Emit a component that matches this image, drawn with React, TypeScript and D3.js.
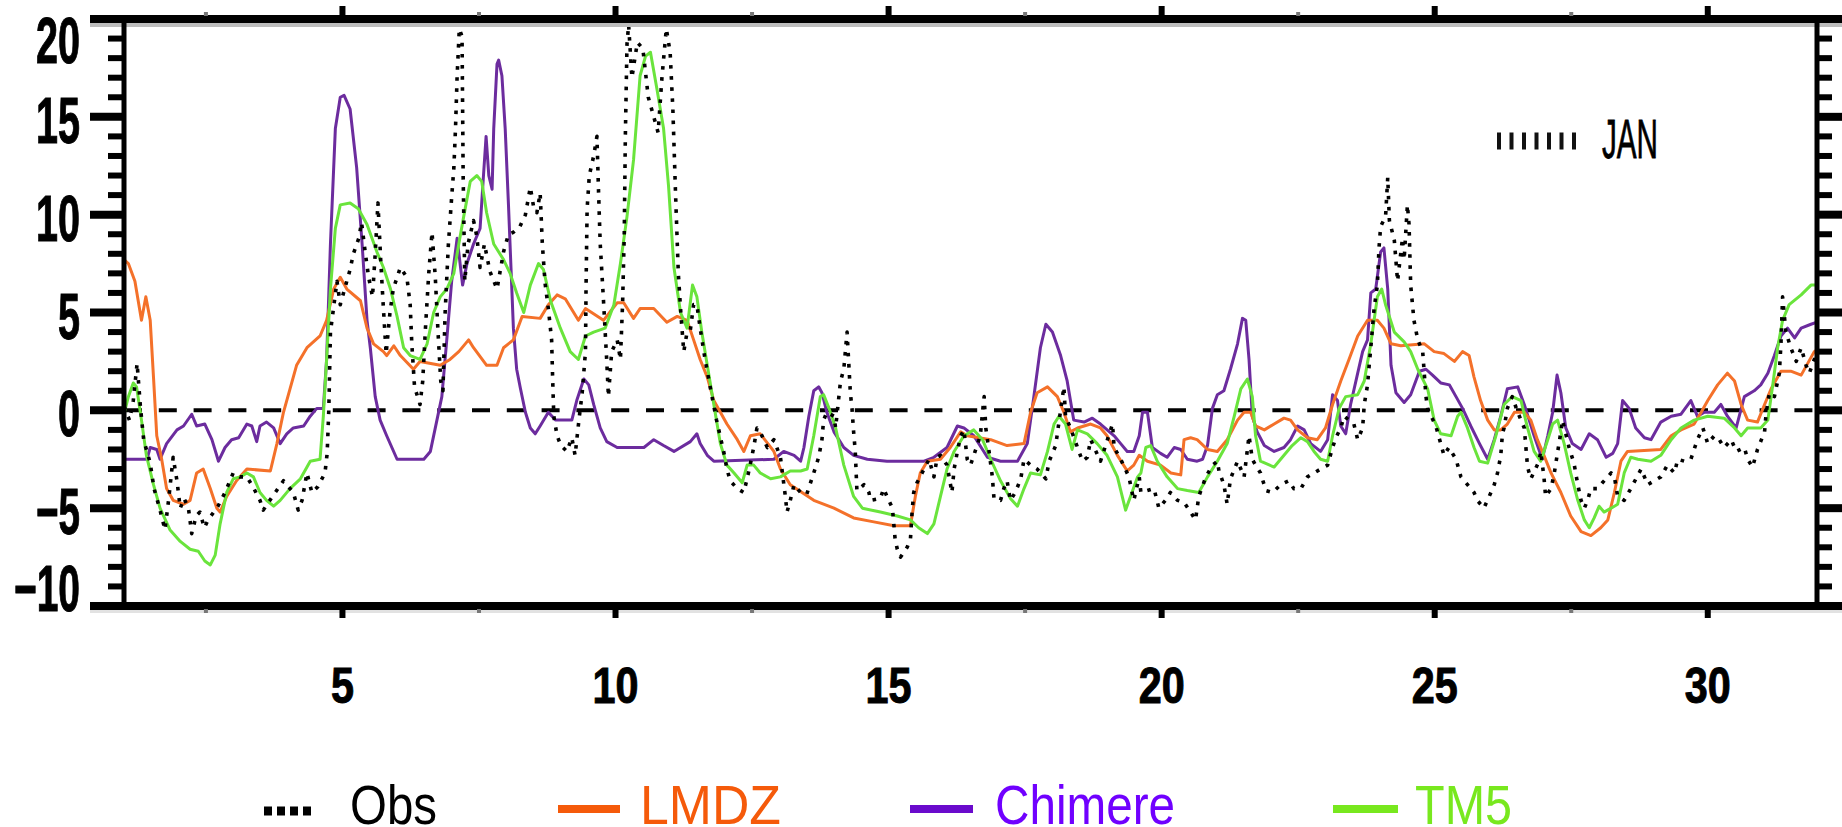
import React from 'react';
import * as d3 from 'd3';

type Pt = [number, number];

// tick values and legend texts
const xTicks = [5, 10, 15, 20, 25, 30];
const yTicks = [-10, -5, 0, 5, 10, 15, 20];
const seriesNames = ['Obs', 'LMDZ', 'Chimere', 'TM5'];
const monthLabel = 'JAN';

// [day of month, value]
const obs: Pt[] = [
	[1.0, 0.2], [1.1, -0.5], [1.17, 0.5], [1.24, 2.4], [1.3, 0.2], [1.36, -1.5], [1.48, -2.7], [1.55, -4.0],
	[1.66, -5.1], [1.75, -6.1], [1.82, -4.5], [1.9, -2.4], [1.97, -3.6], [2.03, -5.0], [2.1, -4.5], [2.18, -5.0],
	[2.24, -6.3], [2.32, -5.4], [2.39, -5.2], [2.47, -6.0], [2.54, -5.6], [2.72, -4.9], [2.85, -4.2], [3.0, -3.2],
	[3.12, -3.4], [3.25, -3.4], [3.36, -3.9], [3.49, -4.6], [3.55, -5.1], [3.62, -4.8], [3.77, -4.2], [3.92, -3.6],
	[4.1, -4.2], [4.19, -5.1], [4.26, -4.6], [4.35, -3.2], [4.44, -4.2], [4.55, -3.9], [4.68, -3.2], [4.72, -2.2],
	[4.75, 0.0], [4.78, 4.0], [4.84, 5.3], [4.9, 6.6], [4.96, 5.4], [5.05, 6.3], [5.14, 7.2], [5.2, 8.0],
	[5.3, 8.8], [5.35, 9.6], [5.42, 8.0], [5.48, 6.8], [5.55, 5.8], [5.6, 8.0], [5.65, 10.6], [5.7, 7.7],
	[5.75, 5.2], [5.8, 2.9], [5.87, 5.0], [5.93, 6.2], [6.06, 7.3], [6.18, 6.8], [6.24, 5.4], [6.27, 3.4],
	[6.32, 1.2], [6.42, 0.3], [6.47, 1.5], [6.52, 4.2], [6.58, 7.0], [6.64, 9.1], [6.7, 6.8], [6.75, 4.0],
	[6.8, 1.5], [6.84, 1.0], [6.88, 5.0], [6.94, 8.5], [7.0, 10.9], [7.04, 12.4], [7.07, 14.4], [7.1, 17.1],
	[7.14, 19.5], [7.19, 19.1], [7.21, 12.0], [7.24, 6.6], [7.3, 8.5], [7.4, 9.7], [7.46, 8.9], [7.52, 7.3],
	[7.6, 8.5], [7.7, 7.1], [7.83, 6.2], [7.95, 8.1], [8.04, 9.0], [8.13, 9.1], [8.25, 9.4], [8.35, 10.0],
	[8.44, 11.4], [8.5, 10.4], [8.56, 10.1], [8.62, 11.1], [8.66, 8.5], [8.71, 6.5], [8.77, 5.2], [8.83, 3.6],
	[8.85, 1.5], [8.87, -0.3], [8.93, -1.3], [9.0, -1.8], [9.11, -2.1], [9.2, -1.4], [9.26, -2.3], [9.33, -0.5],
	[9.39, 0.9], [9.45, 3.0], [9.46, 6.2], [9.48, 10.3], [9.52, 12.0], [9.6, 13.0], [9.66, 14.0], [9.69, 11.1],
	[9.72, 8.5], [9.78, 5.6], [9.84, 2.5], [9.87, 0.7], [9.93, 3.0], [10.03, 3.6], [10.09, 2.6], [10.13, 5.5],
	[10.16, 9.0], [10.18, 14.0], [10.21, 18.7], [10.24, 19.7], [10.3, 17.0], [10.4, 18.8], [10.5, 18.5], [10.6, 16.0],
	[10.7, 15.0], [10.78, 14.2], [10.85, 17.0], [10.93, 19.5], [11.0, 18.3], [11.05, 15.4], [11.1, 11.0], [11.15, 7.0],
	[11.2, 4.8], [11.25, 3.0], [11.31, 4.0], [11.37, 4.1], [11.43, 5.4], [11.49, 5.4], [11.55, 4.2], [11.64, 2.6],
	[11.74, 1.1], [11.85, -0.5], [11.98, -2.1], [12.04, -3.0], [12.1, -3.6], [12.23, -4.0], [12.35, -4.2], [12.45, -3.0],
	[12.53, -1.9], [12.59, -0.9], [12.65, -1.1], [12.78, -1.9], [12.9, -1.5], [13.02, -2.4], [13.11, -4.4], [13.14, -5.2],
	[13.2, -4.6], [13.27, -3.8], [13.39, -4.2], [13.5, -4.3], [13.63, -3.2], [13.72, -2.4], [13.78, -1.5], [13.81, -0.5],
	[13.87, -0.1], [14.0, -0.3], [14.03, -0.9], [14.09, 0.7], [14.12, 1.5], [14.18, 2.1], [14.24, 4.0], [14.3, 0.9],
	[14.33, 0.1], [14.36, -1.1], [14.39, -2.1], [14.42, -4.1], [14.55, -3.8], [14.64, -4.2], [14.67, -4.6], [14.85, -4.5],
	[14.91, -4.0], [14.97, -4.4], [15.07, -5.0], [15.12, -6.6], [15.16, -7.1], [15.22, -7.5], [15.34, -7.0], [15.4, -6.6],
	[15.43, -5.2], [15.46, -4.2], [15.52, -3.7], [15.65, -3.0], [15.74, -2.5], [15.83, -3.4], [15.89, -2.4], [15.95, -2.3],
	[16.07, -2.8], [16.16, -4.2], [16.2, -3.0], [16.26, -2.1], [16.32, -1.3], [16.38, -1.0], [16.44, -2.5], [16.5, -2.8],
	[16.56, -2.3], [16.68, -1.3], [16.72, -0.1], [16.75, 0.7], [16.78, -0.9], [16.84, -2.1], [16.9, -3.4], [16.93, -4.5],
	[17.05, -4.6], [17.11, -4.0], [17.17, -3.6], [17.23, -4.6], [17.32, -4.2], [17.42, -3.5], [17.48, -2.5], [17.6, -2.8],
	[17.72, -3.0], [17.88, -3.5], [17.94, -2.6], [18.06, -1.8], [18.21, 1.2], [18.24, -0.3], [18.33, -0.9], [18.46, -1.9],
	[18.55, -2.6], [18.64, -2.4], [18.7, -1.5], [18.88, -2.6], [19.1, -0.7], [19.13, -1.9], [19.25, -2.5], [19.4, -3.4],
	[19.49, -4.6], [19.59, -3.4], [19.62, -4.2], [19.86, -4.0], [19.95, -5.0], [20.07, -4.6], [20.16, -4.2], [20.29, -4.6],
	[20.41, -4.7], [20.53, -5.2], [20.62, -5.6], [20.68, -4.4], [20.81, -3.4], [20.93, -2.8], [21.02, -2.6], [21.05, -3.1],
	[21.14, -3.8], [21.2, -4.8], [21.26, -3.5], [21.39, -2.6], [21.45, -3.0], [21.51, -3.4], [21.6, -1.3], [21.66, -2.5],
	[21.72, -2.8], [21.81, -3.2], [21.91, -4.1], [22.03, -4.2], [22.18, -3.8], [22.33, -3.6], [22.42, -4.0], [22.55, -4.0],
	[22.67, -3.4], [22.79, -3.2], [22.91, -3.0], [23.04, -2.8], [23.13, -1.9], [23.19, -1.4], [23.28, -0.9], [23.34, -0.3],
	[23.52, -0.7], [23.59, -1.5], [23.68, -0.9], [23.71, 0.3], [23.77, 1.3], [23.8, 2.3], [23.83, 3.2], [23.89, 5.2],
	[23.95, 6.4], [23.98, 8.3], [24.01, 9.4], [24.1, 9.9], [24.14, 11.9], [24.17, 9.7], [24.26, 8.7], [24.32, 6.6],
	[24.41, 8.8], [24.44, 7.7], [24.5, 10.5], [24.53, 9.5], [24.56, 6.4], [24.62, 4.6], [24.69, 3.6], [24.78, 3.0],
	[24.84, 0.7], [24.87, 0.1], [25.02, -0.8], [25.11, -1.7], [25.17, -2.3], [25.26, -1.9], [25.39, -2.5], [25.48, -3.4],
	[25.6, -3.8], [25.72, -4.2], [25.78, -4.6], [25.9, -5.0], [26.03, -4.2], [26.09, -3.8], [26.15, -3.2], [26.21, -2.3],
	[26.24, -1.2], [26.27, -0.9], [26.33, 0.1], [26.42, 0.7], [26.52, -0.1], [26.64, -0.9], [26.67, -1.9], [26.7, -2.9],
	[26.76, -3.5], [26.91, -2.6], [26.94, -2.1], [27.0, -3.4], [27.03, -4.4], [27.13, -4.0], [27.19, -3.2], [27.31, -1.1],
	[27.34, -0.5], [27.46, -1.9], [27.55, -2.7], [27.62, -3.8], [27.68, -4.6], [27.74, -5.0], [27.8, -4.6], [27.86, -4.0],
	[27.98, -4.0], [28.07, -3.7], [28.17, -3.4], [28.23, -3.2], [28.29, -3.4], [28.35, -4.4], [28.47, -4.6], [28.59, -4.0],
	[28.78, -3.0], [28.9, -3.8], [29.02, -3.6], [29.14, -3.4], [29.26, -2.8], [29.39, -3.2], [29.45, -2.5], [29.57, -2.6],
	[29.69, -2.5], [29.81, -1.5], [29.91, -0.9], [30.0, -1.7], [30.12, -1.3], [30.21, -1.5], [30.3, -1.9], [30.43, -1.5],
	[30.52, -2.1], [30.67, -1.9], [30.73, -2.5], [30.82, -2.9], [30.91, -2.0], [31.04, -1.1], [31.07, -0.1], [31.13, 0.9],
	[31.22, 0.7], [31.31, 1.9], [31.34, 3.4], [31.37, 5.8], [31.43, 4.0], [31.52, 3.2], [31.62, 2.5], [31.71, 3.2],
	[31.8, 2.3], [31.86, 1.9], [31.95, 2.6], [32.0, 2.4],
];

const lmdz: Pt[] = [
	[1.0, 7.7], [1.08, 7.5], [1.2, 6.6], [1.32, 4.6], [1.4, 5.8], [1.48, 4.6], [1.54, 1.7], [1.6, -1.3],
	[1.69, -2.5], [1.78, -4.0], [1.9, -4.6], [2.09, -4.8], [2.21, -4.6], [2.33, -3.2], [2.45, -3.0], [2.58, -4.0],
	[2.7, -5.0], [2.76, -5.2], [2.88, -4.4], [3.06, -3.6], [3.25, -3.0], [3.68, -3.1], [3.8, -1.7], [3.92, -0.1],
	[4.04, 1.1], [4.16, 2.3], [4.35, 3.2], [4.59, 3.8], [4.71, 4.6], [4.84, 6.2], [4.96, 6.8], [5.08, 6.2],
	[5.33, 5.6], [5.45, 4.2], [5.57, 3.4], [5.75, 3.0], [5.81, 2.8], [5.94, 3.3], [6.06, 2.8], [6.3, 2.1],
	[6.42, 2.5], [6.79, 2.3], [6.97, 2.6], [7.13, 3.0], [7.31, 3.6], [7.4, 3.2], [7.64, 2.3], [7.83, 2.3],
	[7.95, 3.2], [8.13, 3.6], [8.29, 4.8], [8.62, 4.7], [8.77, 5.4], [8.93, 5.9], [9.08, 5.7], [9.32, 4.6],
	[9.45, 5.2], [9.78, 4.6], [10.03, 5.5], [10.15, 5.5], [10.33, 4.7], [10.45, 5.2], [10.7, 5.2], [10.94, 4.5],
	[11.13, 4.8], [11.31, 4.6], [11.43, 3.6], [11.55, 2.6], [11.68, 1.7], [11.8, 0.5], [12.04, -0.7], [12.23, -1.5],
	[12.35, -2.1], [12.47, -1.3], [12.65, -1.2], [12.9, -2.1], [13.02, -3.0], [13.2, -3.8], [13.36, -4.1], [13.63, -4.6],
	[14.0, -5.0], [14.36, -5.5], [14.73, -5.7], [15.1, -5.9], [15.4, -5.9], [15.49, -4.4], [15.58, -3.2], [15.71, -2.6],
	[15.95, -2.5], [16.13, -1.9], [16.32, -1.1], [16.44, -1.3], [16.87, -1.5], [17.17, -1.8], [17.48, -1.7], [17.6, -0.1],
	[17.72, 0.9], [17.91, 1.2], [18.09, 0.7], [18.21, -0.1], [18.33, -1.1], [18.46, -0.9], [18.7, -0.7], [18.88, -0.9],
	[19.0, -1.3], [19.19, -2.3], [19.37, -3.1], [19.49, -2.8], [19.59, -2.3], [19.74, -2.6], [19.98, -2.8], [20.17, -3.2],
	[20.35, -3.3], [20.41, -1.5], [20.53, -1.4], [20.65, -1.5], [20.84, -2.0], [21.02, -2.1], [21.2, -1.5], [21.39, -0.5],
	[21.51, -0.1], [21.63, -0.1], [21.72, -0.8], [21.88, -1.0], [22.06, -0.7], [22.24, -0.4], [22.36, -0.5], [22.49, -1.0],
	[22.67, -1.4], [22.85, -1.5], [23.0, -0.9], [23.13, 0.3], [23.28, 1.5], [23.43, 2.6], [23.59, 3.8], [23.77, 4.6],
	[23.95, 4.6], [24.07, 4.2], [24.2, 3.4], [24.38, 3.3], [24.81, 3.4], [24.99, 3.0], [25.17, 2.9], [25.36, 2.5],
	[25.51, 3.0], [25.63, 2.8], [25.72, 1.7], [25.84, 0.5], [25.97, -0.5], [26.09, -1.0], [26.21, -1.0], [26.33, -0.7],
	[26.46, -0.1], [26.64, -0.1], [26.76, -0.5], [26.88, -1.5], [27.0, -2.3], [27.13, -3.2], [27.31, -4.2], [27.49, -5.4],
	[27.68, -6.2], [27.86, -6.4], [28.04, -6.0], [28.17, -5.6], [28.29, -4.2], [28.41, -2.6], [28.53, -2.1], [29.14, -2.0],
	[29.33, -1.3], [29.51, -1.0], [29.75, -0.7], [29.88, -0.1], [30.0, 0.5], [30.18, 1.3], [30.36, 1.9], [30.49, 1.5],
	[30.61, 0.3], [30.73, -0.5], [30.91, -0.6], [31.04, 0.3], [31.16, 1.1], [31.34, 2.0], [31.52, 2.0], [31.71, 1.8],
	[31.83, 2.4], [31.95, 3.0], [32.0, 3.1],
];

const chimere: Pt[] = [
	[1.0, -2.5], [1.42, -2.5], [1.48, -1.9], [1.6, -2.0], [1.66, -2.5], [1.78, -1.7], [1.97, -1.0], [2.09, -0.8],
	[2.24, -0.2], [2.33, -0.8], [2.48, -0.7], [2.61, -1.5], [2.73, -2.6], [2.85, -1.9], [2.97, -1.5], [3.1, -1.4],
	[3.25, -0.7], [3.34, -0.8], [3.43, -1.6], [3.49, -0.8], [3.61, -0.6], [3.74, -0.9], [3.86, -1.7], [3.98, -1.2],
	[4.1, -0.9], [4.29, -0.8], [4.41, -0.3], [4.53, 0.1], [4.65, 0.1], [4.71, 2.6], [4.78, 8.5], [4.87, 14.4],
	[4.96, 16.0], [5.03, 16.1], [5.14, 15.4], [5.26, 12.4], [5.36, 8.5], [5.45, 4.6], [5.51, 3.2], [5.6, 0.7],
	[5.69, -0.5], [5.81, -1.3], [6.0, -2.5], [6.49, -2.5], [6.61, -2.1], [6.73, -0.5], [6.82, 0.7], [6.91, 3.6],
	[7.0, 6.6], [7.1, 8.8], [7.2, 6.4], [7.28, 7.5], [7.4, 8.5], [7.52, 9.3], [7.58, 11.9], [7.63, 14.0],
	[7.68, 12.0], [7.74, 11.3], [7.77, 14.4], [7.83, 17.7], [7.86, 17.9], [7.92, 17.1], [7.98, 14.4], [8.04, 10.5],
	[8.13, 4.2], [8.19, 2.1], [8.26, 1.1], [8.35, -0.1], [8.44, -0.9], [8.53, -1.2], [8.62, -0.8], [8.77, -0.1],
	[8.9, -0.5], [9.2, -0.5], [9.29, 0.5], [9.42, 1.6], [9.51, 1.3], [9.6, 0.3], [9.72, -0.9], [9.84, -1.6],
	[10.03, -1.9], [10.52, -1.9], [10.7, -1.5], [10.88, -1.8], [11.07, -2.1], [11.37, -1.6], [11.49, -1.2], [11.55, -1.7],
	[11.68, -2.3], [11.8, -2.6], [12.9, -2.5], [13.08, -2.1], [13.27, -2.3], [13.39, -2.6], [13.45, -1.9], [13.54, -0.3],
	[13.63, 1.0], [13.72, 1.2], [13.78, 0.9], [13.87, -0.1], [14.0, -1.1], [14.18, -1.9], [14.36, -2.3], [14.61, -2.5],
	[14.97, -2.6], [15.65, -2.6], [15.83, -2.4], [16.07, -1.9], [16.26, -0.8], [16.38, -0.9], [16.56, -1.3], [16.81, -2.4],
	[17.05, -2.6], [17.36, -2.6], [17.54, -1.7], [17.66, 0.7], [17.78, 3.2], [17.88, 4.4], [18.0, 4.0], [18.15, 2.8],
	[18.27, 1.5], [18.39, -0.5], [18.58, -0.6], [18.73, -0.4], [18.88, -0.7], [19.13, -1.3], [19.25, -1.7], [19.37, -2.1],
	[19.49, -2.1], [19.59, -1.3], [19.65, -0.1], [19.74, -0.1], [19.83, -1.9], [19.98, -2.2], [20.1, -2.4], [20.23, -1.9],
	[20.35, -2.0], [20.47, -2.5], [20.65, -2.6], [20.75, -2.5], [20.84, -1.8], [20.93, 0.1], [21.02, 0.8], [21.14, 1.0],
	[21.26, 2.1], [21.39, 3.4], [21.48, 4.7], [21.54, 4.6], [21.6, 2.6], [21.66, -0.3], [21.75, -1.1], [21.88, -1.8],
	[22.06, -2.1], [22.24, -1.9], [22.36, -1.5], [22.49, -0.8], [22.61, -1.0], [22.73, -1.7], [22.91, -2.1], [23.04, -1.5],
	[23.13, 0.8], [23.22, 0.5], [23.28, -0.8], [23.37, -1.2], [23.46, 0.3], [23.59, 1.9], [23.68, 3.0], [23.77, 3.6],
	[23.83, 6.0], [23.92, 6.2], [24.01, 8.1], [24.07, 8.3], [24.14, 6.2], [24.2, 2.3], [24.29, 0.9], [24.44, 0.4],
	[24.56, 0.8], [24.72, 2.0], [24.84, 2.1], [24.96, 1.8], [25.11, 1.4], [25.27, 1.3], [25.39, 0.7], [25.51, 0.1],
	[25.66, -0.8], [25.82, -1.7], [25.97, -2.5], [26.09, -1.5], [26.21, -0.3], [26.33, 1.1], [26.52, 1.2], [26.64, 0.3],
	[26.82, -1.3], [26.97, -2.5], [27.07, -1.3], [27.16, -0.1], [27.24, 1.8], [27.31, 0.9], [27.4, -0.9], [27.52, -1.7],
	[27.68, -2.0], [27.83, -1.2], [27.98, -1.5], [28.14, -2.4], [28.26, -2.2], [28.35, -1.7], [28.44, 0.5], [28.56, 0.1],
	[28.68, -0.9], [28.84, -1.4], [28.96, -1.5], [29.14, -0.6], [29.33, -0.3], [29.51, -0.2], [29.69, 0.5], [29.81, -0.3],
	[29.94, -0.1], [30.12, -0.1], [30.24, 0.3], [30.36, -0.3], [30.52, -0.9], [30.67, 0.7], [30.85, 1.0], [30.97, 1.3],
	[31.1, 1.9], [31.22, 2.8], [31.34, 3.8], [31.46, 4.2], [31.59, 3.7], [31.71, 4.2], [31.89, 4.4], [32.0, 4.5],
];

const tm5: Pt[] = [
	[1.0, -0.2], [1.08, 0.7], [1.17, 1.4], [1.23, 1.2], [1.32, -0.5], [1.41, -2.3], [1.54, -3.8], [1.66, -5.0],
	[1.84, -6.1], [2.03, -6.7], [2.21, -7.1], [2.36, -7.2], [2.48, -7.7], [2.58, -7.9], [2.67, -7.4], [2.76, -5.8],
	[2.88, -4.2], [3.0, -3.5], [3.13, -3.4], [3.25, -3.2], [3.37, -3.4], [3.49, -4.2], [3.61, -4.6], [3.74, -4.9],
	[3.86, -4.6], [4.04, -4.0], [4.23, -3.5], [4.41, -2.6], [4.59, -2.5], [4.65, -0.3], [4.71, 2.6], [4.78, 6.2],
	[4.87, 9.3], [4.96, 10.5], [5.14, 10.6], [5.29, 10.3], [5.45, 9.5], [5.63, 8.1], [5.75, 7.3], [5.88, 6.2],
	[6.0, 4.8], [6.12, 3.2], [6.24, 2.8], [6.42, 2.6], [6.55, 3.4], [6.67, 5.0], [6.79, 5.8], [6.91, 6.2],
	[7.04, 7.0], [7.13, 8.5], [7.22, 9.9], [7.34, 11.7], [7.46, 12.0], [7.55, 11.7], [7.64, 10.1], [7.77, 8.5],
	[7.95, 7.7], [8.07, 7.0], [8.19, 6.0], [8.32, 5.0], [8.44, 6.4], [8.59, 7.5], [8.68, 7.2], [8.81, 5.6],
	[8.99, 4.2], [9.17, 3.0], [9.32, 2.6], [9.45, 3.8], [9.6, 4.0], [9.81, 4.2], [9.97, 5.4], [10.09, 7.5],
	[10.21, 9.9], [10.33, 12.8], [10.45, 17.1], [10.55, 18.1], [10.64, 18.3], [10.76, 16.4], [10.88, 14.4], [10.97, 11.5],
	[11.07, 7.3], [11.19, 5.0], [11.31, 4.2], [11.41, 6.4], [11.49, 5.8], [11.58, 4.0], [11.68, 2.3], [11.8, 0.3],
	[11.92, -1.7], [12.04, -2.8], [12.17, -3.2], [12.32, -3.7], [12.41, -2.8], [12.53, -2.8], [12.65, -3.2], [12.84, -3.5],
	[13.02, -3.4], [13.2, -3.1], [13.39, -3.1], [13.51, -3.0], [13.63, -1.3], [13.75, 0.7], [13.81, 0.8], [13.91, 0.1],
	[14.03, -0.9], [14.18, -2.8], [14.36, -4.4], [14.52, -5.0], [14.85, -5.2], [15.16, -5.4], [15.4, -5.6], [15.55, -6.0],
	[15.71, -6.3], [15.83, -5.8], [15.95, -4.4], [16.07, -3.0], [16.2, -2.1], [16.38, -1.3], [16.56, -1.0], [16.72, -1.5],
	[16.87, -2.5], [17.05, -3.6], [17.23, -4.5], [17.36, -4.9], [17.48, -4.0], [17.6, -3.2], [17.78, -3.3], [17.91, -2.1],
	[18.03, -0.7], [18.12, -0.3], [18.24, -0.7], [18.36, -2.0], [18.46, -1.0], [18.64, -1.2], [18.82, -1.7], [19.0, -2.3],
	[19.19, -3.4], [19.34, -5.1], [19.43, -4.4], [19.56, -3.4], [19.62, -3.2], [19.71, -1.9], [19.8, -1.8], [19.92, -2.6],
	[20.1, -3.4], [20.29, -4.0], [20.47, -4.1], [20.68, -4.2], [20.84, -3.4], [21.02, -2.6], [21.2, -1.7], [21.33, -0.3],
	[21.45, 1.1], [21.57, 1.6], [21.66, 0.7], [21.72, -1.3], [21.81, -2.6], [22.06, -2.9], [22.24, -2.3], [22.39, -1.8],
	[22.55, -1.4], [22.67, -1.6], [22.79, -2.1], [22.91, -2.5], [23.04, -2.6], [23.13, -1.3], [23.25, 0.1], [23.37, 0.7],
	[23.59, 0.8], [23.71, 1.5], [23.83, 3.4], [23.95, 5.8], [24.03, 6.2], [24.1, 5.4], [24.26, 4.0], [24.44, 3.5],
	[24.56, 3.0], [24.69, 2.1], [24.87, 1.1], [24.99, -0.5], [25.11, -1.2], [25.3, -1.3], [25.42, -0.3], [25.48, -0.1],
	[25.6, -0.9], [25.72, -1.9], [25.82, -2.6], [25.97, -2.7], [26.12, -1.3], [26.27, 0.3], [26.42, 0.7], [26.58, 0.5],
	[26.7, -0.9], [26.82, -2.1], [26.94, -2.6], [27.07, -1.5], [27.16, -0.7], [27.25, -0.5], [27.37, -1.7], [27.49, -3.2],
	[27.62, -4.6], [27.74, -5.6], [27.83, -6.0], [27.92, -5.5], [28.01, -4.9], [28.1, -5.2], [28.23, -5.0], [28.35, -4.8],
	[28.47, -3.2], [28.59, -2.4], [28.72, -2.5], [28.96, -2.6], [29.14, -2.3], [29.33, -1.5], [29.51, -0.9], [29.75, -0.5],
	[30.0, -0.3], [30.3, -0.4], [30.49, -0.9], [30.61, -1.3], [30.73, -0.9], [30.97, -0.9], [31.1, -0.5], [31.19, 1.3],
	[31.28, 3.2], [31.37, 4.6], [31.49, 5.4], [31.71, 5.9], [31.89, 6.4], [32.0, 6.4],
];

const W = 1842;
const H = 827;
const plot = { left: 124, right: 1817, top: 19, bottom: 606 };
const tickFont = 'Liberation Sans, Arial, Helvetica, sans-serif';

export default function App() {
	const x = d3.scaleLinear().domain([1, 32]).range([plot.left, plot.right]);
	const y = d3.scaleLinear().domain([-10, 20]).range([plot.bottom, plot.top]);
	const line = d3
		.line<Pt>()
		.x((d) => x(d[0]))
		.y((d) => y(d[1]));
	const fmt = d3.format('d');

	const yMinor = d3.range(-10, 21).filter((v) => v % 5 !== 0);
	const xMinor = d3.range(2.5, 32, 5);

	// bottom legend layout
	const legend = [
		{ name: seriesNames[0], color: '#000', textColor: '#000', x1: 264, x2: 312, dots: true, tx: 350, tw: 87 },
		{ name: seriesNames[1], color: '#F55A0A', textColor: '#F55A0A', x1: 558, x2: 620, dots: false, tx: 640, tw: 141 },
		{ name: seriesNames[2], color: '#6A0ACC', textColor: '#7000FF', x1: 910, x2: 973, dots: false, tx: 995, tw: 180 },
		{ name: seriesNames[3], color: '#78E81E', textColor: '#78E81E', x1: 1333, x2: 1398, dots: false, tx: 1415, tw: 97 },
	];

	return (
		<svg
			width={W}
			height={H}
			style={{ position: 'absolute', left: 0, top: 0, background: '#fff' }}
			fontFamily={tickFont}>
			<defs>
				<clipPath id='plotClip'>
					<rect x={plot.left} y={plot.top} width={plot.right - plot.left} height={plot.bottom - plot.top} />
				</clipPath>
			</defs>

			{/* zero line */}
			<line
				x1={plot.left}
				x2={plot.right}
				y1={y(0)}
				y2={y(0)}
				stroke='#000'
				strokeWidth={4}
				strokeDasharray='18 16.8'
			/>

			{/* series */}
			<g clipPath='url(#plotClip)' fill='none' strokeLinejoin='round'>
				<path d={line(chimere) || ''} stroke='#6C2C9E' strokeWidth={3} />
				<path d={line(lmdz) || ''} stroke='#F4712A' strokeWidth={3} />
				<path d={line(tm5) || ''} stroke='#6AE43C' strokeWidth={3} />
				<path d={line(obs) || ''} stroke='#000' strokeWidth={3.6} strokeDasharray='3.6 7.5' />
			</g>

			{/* frame */}
			<rect x={90} y={23} width={W - 90} height={4} fill='#bdbdbd' />
			<rect x={90} y={610} width={W - 90} height={3} fill='#e2e2e2' />
			<line x1={90} x2={W} y1={plot.top} y2={plot.top} stroke='#000' strokeWidth={8} />
			<line x1={90} x2={W} y1={plot.bottom} y2={plot.bottom} stroke='#000' strokeWidth={8} />
			<line x1={plot.left} x2={plot.left} y1={15} y2={610} stroke='#000' strokeWidth={5} />
			<line x1={plot.right} x2={plot.right} y1={15} y2={610} stroke='#000' strokeWidth={5} />

			{/* y ticks, both sides */}
			{yTicks.map((v) => (
				<g key={'yt' + v}>
					<line x1={90} x2={plot.left} y1={y(v)} y2={y(v)} stroke='#000' strokeWidth={8} />
					<line x1={plot.right} x2={W} y1={y(v)} y2={y(v)} stroke='#000' strokeWidth={8} />
				</g>
			))}
			{yMinor.map((v) => (
				<g key={'ym' + v}>
					<line x1={108} x2={plot.left} y1={y(v)} y2={y(v)} stroke='#000' strokeWidth={6} />
					<line x1={plot.right} x2={1832} y1={y(v)} y2={y(v)} stroke='#000' strokeWidth={6} />
				</g>
			))}
			{yTicks.map((v) => {
				const c = Math.max(40, Math.min(588, y(v) + 3));
				const label = fmt(v);
				return (
					<text
						key={'yl' + v}
						x={80}
						y={c + 23}
						textAnchor='end'
						fontSize={64}
						fontWeight='bold'
						stroke='#000'
						strokeWidth={1}
						textLength={label.length * 22}
						lengthAdjust='spacingAndGlyphs'>
						{label}
					</text>
				);
			})}

			{/* x ticks, top and bottom */}
			{xTicks.map((d) => (
				<g key={'xt' + d}>
					<line x1={x(d)} x2={x(d)} y1={6} y2={16} stroke='#000' strokeWidth={6} />
					<line x1={x(d)} x2={x(d)} y1={609} y2={618} stroke='#000' strokeWidth={6} />
				</g>
			))}
			{xMinor.map((d) => (
				<g key={'xm' + d}>
					<line x1={x(d)} x2={x(d)} y1={12} y2={16} stroke='#777' strokeWidth={4} />
					<line x1={x(d)} x2={x(d)} y1={609} y2={613} stroke='#777' strokeWidth={4} />
				</g>
			))}
			{xTicks.map((d) => {
				const label = fmt(d);
				return (
					<text
						key={'xl' + d}
						x={x(d) - (label.length * 23) / 2}
						y={703}
						fontSize={50}
						fontWeight='bold'
						stroke='#000'
						strokeWidth={1}
						textLength={label.length * 23}
						lengthAdjust='spacingAndGlyphs'>
						{label}
					</text>
				);
			})}

			{/* in-plot month label */}
			<line x1={1497} x2={1576} y1={141} y2={141} stroke='#111' strokeWidth={17} strokeDasharray='4 8.5' />
			<text x={1602} y={158} fontSize={56} stroke='#000' strokeWidth={0.8} textLength={56} lengthAdjust='spacingAndGlyphs'>
				{monthLabel}
			</text>

			{/* bottom legend */}
			{legend.map((l) => (
				<g key={l.name}>
					{l.dots ? (
						<line x1={l.x1} x2={l.x2} y1={811} y2={811} stroke={l.color} strokeWidth={9} strokeDasharray='8 5' />
					) : (
						<line x1={l.x1} x2={l.x2} y1={809} y2={809} stroke={l.color} strokeWidth={8} />
					)}
					<text
						x={l.tx}
						y={824}
						fontSize={55}
						fill={l.textColor}
						textLength={l.tw}
						lengthAdjust='spacingAndGlyphs'>
						{l.name}
					</text>
				</g>
			))}
		</svg>
	);
}
